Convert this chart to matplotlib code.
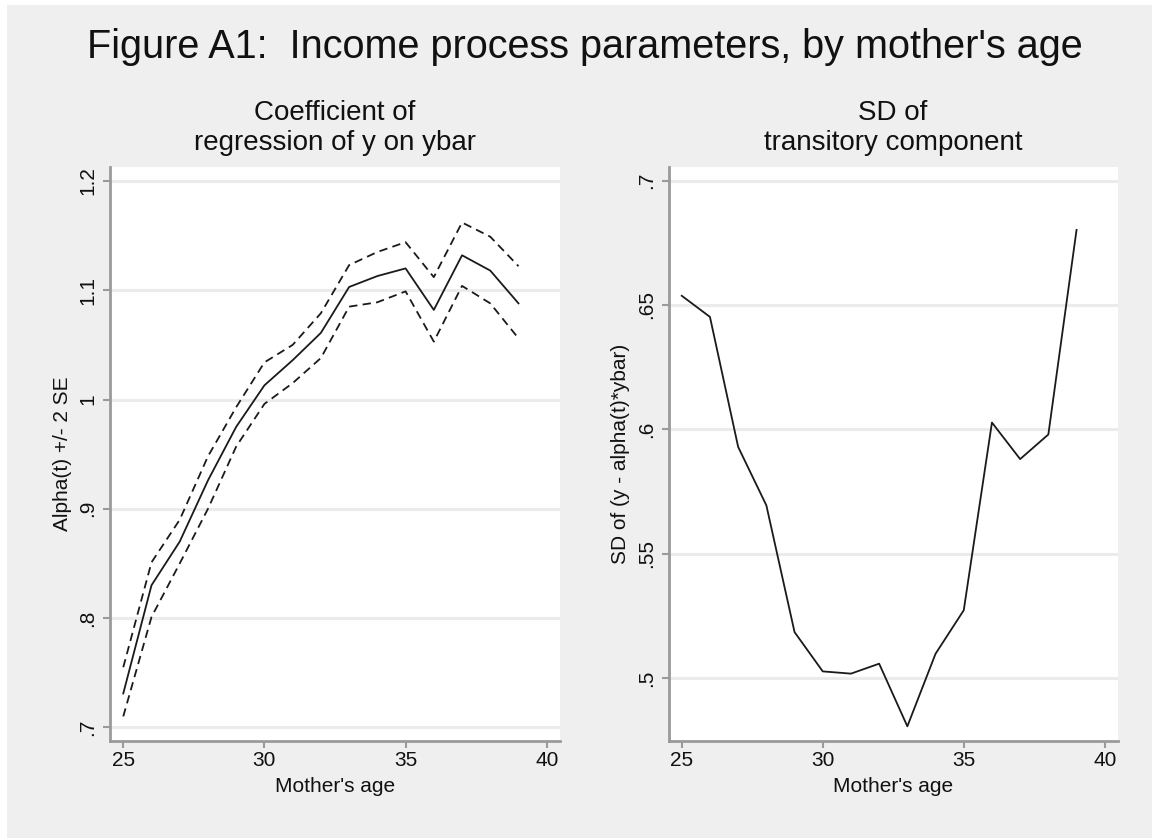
import matplotlib
matplotlib.use("Agg")
import matplotlib.pyplot as plt
from matplotlib.patches import Rectangle

plt.rcParams['font.family'] = ['Liberation Sans', 'DejaVu Sans']
plt.rcParams['lines.scale_dashes'] = False

ages = [25, 26, 27, 28, 29, 30, 31, 32, 33, 34, 35, 36, 37, 38, 39]
alpha = [0.731, 0.830, 0.870, 0.926, 0.975, 1.013, 1.036, 1.061, 1.103, 1.113, 1.120, 1.082, 1.132, 1.118, 1.088]
alpha_hi = [0.755, 0.851, 0.890, 0.948, 0.993, 1.034, 1.050, 1.079, 1.123, 1.135, 1.144, 1.112, 1.162, 1.149, 1.122]
alpha_lo = [0.710, 0.801, 0.850, 0.900, 0.957, 0.996, 1.015, 1.038, 1.085, 1.089, 1.099, 1.053, 1.104, 1.088, 1.056]
sd_trans = [0.6537, 0.6452, 0.5929, 0.5694, 0.5184, 0.5026, 0.5017, 0.5057, 0.4805, 0.5097, 0.5272, 0.6027, 0.5880, 0.5979, 0.6802]

left_yticks = [0.7, 0.8, 0.9, 1.0, 1.1, 1.2]
left_yticklabels = [".7", ".8", ".9", "1", "1.1", "1.2"]
right_yticks = [0.5, 0.55, 0.6, 0.65, 0.7]
right_yticklabels = [".5", ".55", ".6", ".65", ".7"]
xticks = [25, 30, 35, 40]

W, H = 1152, 838
fig = plt.figure(figsize=(W / 100, H / 100), dpi=100, facecolor='white')
bg = '#EFEFEF'
fig.patches.append(Rectangle((7 / W, -0.01), 1.01, 1.01 - 5 / H, transform=fig.transFigure,
                             facecolor=bg, edgecolor='none', zorder=-10))

txt = '#111111'
fig.text(585 / W, 1 - 47 / H, "Figure A1:  Income process parameters, by mother's age",
         ha='center', va='center', fontsize=28.5, color=txt)

spine_col = '#9A9A9A'
grid_col = '#EBEBEB'
line_col = '#1A1A1A'


def style(ax, yticks, ylabels, ylim):
    ax.set_facecolor('white')
    for s in ['top', 'right']:
        ax.spines[s].set_visible(False)
    for s in ['left', 'bottom']:
        ax.spines[s].set_color(spine_col)
        ax.spines[s].set_linewidth(2.0)
    ax.set_xlim(24.53, 40.47)
    ax.set_ylim(*ylim)
    ax.set_xticks(xticks)
    ax.set_xticklabels([str(t) for t in xticks], fontsize=15)
    ax.set_yticks(yticks)
    ax.set_yticklabels(ylabels, fontsize=15, rotation=90, va='center')
    ax.tick_params(axis='both', color=spine_col, length=5, width=1.5, labelcolor=txt)
    ax.tick_params(axis='x', pad=2)
    ax.tick_params(axis='y', pad=4)
    ax.yaxis.grid(True, color=grid_col, linewidth=2.2)
    ax.xaxis.grid(False)
    ax.set_axisbelow(True)


def titles(cx, line1, line2, ylab, ylab_x):
    fig.text(cx / W, 1 - 113 / H, line1, ha='center', va='center', fontsize=20, color=txt)
    fig.text(cx / W, 1 - 143 / H, line2, ha='center', va='center', fontsize=20, color=txt)
    fig.text(cx / W, 1 - 786 / H, "Mother's age", ha='center', va='center', fontsize=15, color=txt)
    fig.text(ylab_x / W, 1 - 454 / H, ylab, ha='center', va='center', rotation=90,
             fontsize=15, color=txt)


# Left panel
axL = fig.add_axes([110 / W, 1 - 741 / H, 450 / W, 574 / H])
style(axL, left_yticks, left_yticklabels, (0.6875, 1.2128))
axL.plot(ages, alpha, color=line_col, linewidth=1.3)
axL.plot(ages, alpha_hi, color=line_col, linewidth=1.3, dashes=(6, 3.8))
axL.plot(ages, alpha_lo, color=line_col, linewidth=1.3, dashes=(6, 3.8))
titles(335, "Coefficient of", "regression of y on ybar", "Alpha(t) +/- 2 SE", 62)

# Right panel
axR = fig.add_axes([668.5 / W, 1 - 741 / H, 449.5 / W, 574 / H])
style(axR, right_yticks, right_yticklabels, (0.4746, 0.7055))
axR.plot(ages, sd_trans, color=line_col, linewidth=1.3)
titles(893, "SD of", "transitory component", "SD of (y - alpha(t)*ybar)", 620)

fig.savefig("out.png", dpi=100, facecolor='white')
